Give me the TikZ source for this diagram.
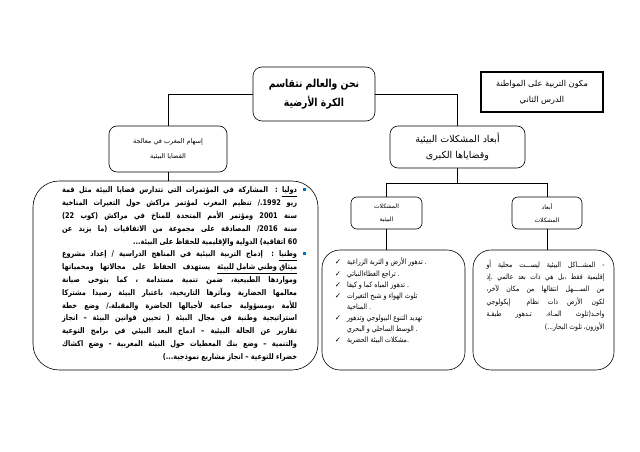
\documentclass[tikz,border=0pt]{standalone}
\usepackage{fontspec}
\usepackage{tikz}
\usetikzlibrary{positioning,calc}
\TeXXeTstate=1
\newfontfamily\arabicfont[Script=Arabic]{DejaVu Sans}
\newfontfamily\arabiccond[Script=Arabic, FakeStretch=0.84]{DejaVu Sans}
\newfontfamily\symfont{DejaVu Sans}
\definecolor{bulletblue}{RGB}{0,112,192}
\tikzset{
  linkln/.style={line width=0.6pt, black},
  themebox/.style={draw, line width=0.6pt, rounded corners=9pt, align=center,
    minimum width=122pt, minimum height=54pt,
    font=\arabiccond\bfseries\fontsize{11}{19}\selectfont},
  lessonbox/.style={draw, line width=1.2pt, align=center,
    minimum width=122pt, minimum height=40pt,
    font=\arabicfont\fontsize{8.2}{16}\selectfont},
  headbox/.style={draw, line width=0.6pt, rounded corners=8pt, align=center},
  tagbox/.style={draw, line width=0.6pt, rounded corners=6pt, align=center,
    minimum width=71pt, minimum height=32pt,
    font=\arabicfont\fontsize{6}{13}\selectfont},
  panelbox/.style={draw, line width=0.6pt, rounded corners=18pt},
  paneltext/.style={inner sep=0pt},
}
\newcommand{\ar}[1]{\beginR #1\endR}
\newcommand{\rowstack}[2]{\vbox{\hsize=#1\relax #2}}
\newcommand{\fullrow}[1]{\hbox to \hsize{\beginR #1\endR}}
\newcommand{\lastrow}[1]{\hbox to \hsize{\hfill\beginR #1\endR}}
\newcommand{\bulletsq}{\rlap{\kern6pt\textcolor{bulletblue}{\rule[1.5pt]{3.2pt}{3.2pt}}}}
\newcommand{\bulletrow}[1]{\hbox to \hsize{\beginR #1\endR\bulletsq}}
\newcommand{\chk}{{\symfont ✓}}
\newcommand{\chkrow}[1]{\hbox{\chk\hspace{6pt}\beginR #1\endR}}
\newcommand{\controw}[1]{\hbox{\phantom{\chk}\hspace{6pt}\beginR #1\endR}}

\begin{document}
\begin{tikzpicture}[x=1pt,y=-1pt]
  \useasboundingbox (0,0) rectangle (640,452);

  \node[themebox] (theme) at (314,94) {\ar{نحن والعالم نتقاسم}\\\ar{الكرة الأرضية}};
  \node[lessonbox] (lesson) at (542,92) {\ar{مكون التربية على المواطنة}\\\ar{الدرس الثاني}};

  \node[headbox, minimum width=118pt, minimum height=46pt,
    font=\arabicfont\fontsize{6.5}{15}\selectfont] (morocco) at (168,149)
    {\ar{إسهام المغرب في معالجة}\\\ar{القضايا البيئية}};
  \node[headbox, minimum width=135pt, minimum height=42pt,
    font=\arabicfont\fontsize{9.5}{16}\selectfont] (dimsmain) at (457.5,147)
    {\ar{أبعاد المشكلات البيئية}\\\ar{وقضاياها الكبرى}};

  \node[tagbox] (envprob) at (386.5,213) {\ar{المشكلات}\\\ar{البيئية}};
  \node[tagbox, minimum width=70pt] (probdim) at (547,213) {\ar{أبعاد}\\\ar{المشكلات}};

  \node[panelbox, rounded corners=26pt, minimum width=285pt, minimum height=189pt] (effort) at (175.5,275.5) {};
  \node[panelbox, minimum width=143pt, minimum height=120pt] (problist) at (393.5,310) {};
  \node[panelbox, minimum width=141pt, minimum height=120pt] (globalnote) at (543.5,310) {};

  % connectors
  \draw[linkln] (theme.west) -| (morocco.north);
  \draw[linkln] (theme.east) -| (dimsmain.north);
  \draw[linkln] (morocco.south) -- (morocco.south |- effort.north);
  \coordinate (split) at ($(dimsmain.south)+(0,15)$);
  \draw[linkln] (dimsmain.south) -- (split);
  \draw[linkln] (envprob.north) |- (split) -| (probdim.north);
  \draw[linkln] (envprob.south) -- (envprob.south |- problist.north);
  \draw[linkln] (probdim.south) -- (probdim.south |- globalnote.north);

  % texts
  \node[paneltext, anchor=north east,
    font=\arabiccond\bfseries\fontsize{7.8}{12.8}\selectfont] (efforttext)
    at ([xshift=-21pt,yshift=-6pt]effort.north east) {\rowstack{235pt}{%
    \bulletrow{\underline{دوليا} : المشاركة في المؤتمرات التي تتدارس قضايا البيئة مثل قمة}
    \fullrow{ريو 1992./ تنظيم المغرب لمؤتمر مراكش حول التغيرات المناخية}
    \fullrow{سنة 2001 ومؤتمر الأمم المتحدة للمناخ في مراكش (كوب 22)}
    \fullrow{سنة 2016/ المصادقة على مجموعة من الاتفاقيات (ما يزيد عن}
    \lastrow{60 اتفاقية) الدولية والإقليمية للحفاظ على البيئة...}
    \bulletrow{\underline{وطنيا} : إدماج التربية البيئية في المناهج الدراسية / إعداد مشروع}
    \fullrow{\underline{\beginR ميثاق وطني شامل للبيئة\endR} يستهدف الحفاظ على مجالاتها ومحمياتها}
    \fullrow{ومواردها الطبيعية، ضمن تنمية مستدامة ، كما يتوخى صيانة}
    \fullrow{معالمها الحضارية ومآثرها التاريخية، باعتبار البيئة رصيدا مشتركا}
    \fullrow{للأمة ،ومسؤولية جماعية لأجيالها الحاضرة والمقبلة./ وضع خطة}
    \fullrow{استراتيجية وطنية في مجال البيئة ( تحيين قوانين البيئة – انجاز}
    \fullrow{تقارير عن الحالة البيئية – ادماج البعد البيئي في برامج التوعية}
    \fullrow{والتنمية – وضع بنك المعطيات حول البيئة المغربية - وضع اكشاك}
    \lastrow{خضراء للتوعية – انجاز مشاريع نموذجية...)}}};

  \node[paneltext, anchor=north west,
    font=\arabiccond\fontsize{7.4}{11.1}\selectfont] (problisttext)
    at ([xshift=13pt,yshift=-8pt]problist.north west) {\rowstack{125pt}{%
    \chkrow{تدهور الأرض و التربة الزراعية\endR\ .\beginR}
    \chkrow{تراجع الغطاءالنباتي\endR\ .\beginR}
    \chkrow{تدهور المياه كما و كيفا\endR\ .\beginR}
    \chkrow{تلوث الهواء و شبح التغيرات}
    \controw{المناخية\endR\ .\beginR}
    \chkrow{تهديد التنوع البيولوجي وتدهور}
    \controw{الوسط الساحلي و البحري\endR\ .\beginR}
    \chkrow{مشكلات البيئة الحضرية\endR.\beginR}}};

  \node[paneltext, anchor=north,
    font=\arabiccond\fontsize{7.3}{12.4}\selectfont] (globaltext)
    at ([xshift=2pt,yshift=-10pt]globalnote.north) {\rowstack{118pt}{%
    \fullrow{- المشـــاكل البيئية ليســـت محلية أو}
    \fullrow{إقليمية فقط ،بل هي ذات بعد عالمي .إذ}
    \fullrow{من الســــهل انتقالها من مكان لآخر،}
    \fullrow{لكون الأرض ذات نظام \quad إيكولوجي}
    \fullrow{واحـد(تلوث المـاء، تـدهور طبقـة}
    \lastrow{الأوزون، تلوث البحار...)}}};
\end{tikzpicture}
\end{document}
